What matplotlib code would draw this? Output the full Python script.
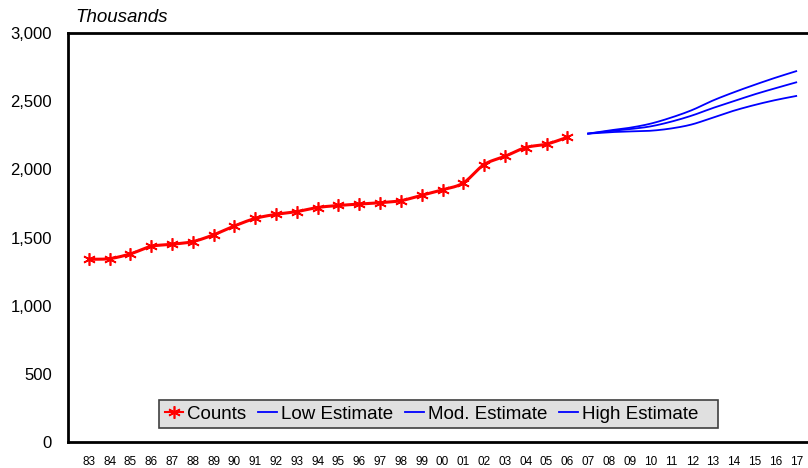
import numpy as np
import matplotlib
matplotlib.use('Agg')
import matplotlib.pyplot as plt
from matplotlib.patches import Rectangle
from matplotlib.ticker import FuncFormatter

plt.rcParams['font.family'] = ['Liberation Sans', 'DejaVu Sans']

# observed counts, 1983-2006 (thousands)
count_years = list(range(1983, 2007))
counts = [1340, 1345, 1380, 1435, 1450, 1470, 1520, 1585, 1640, 1670, 1690, 1720,
          1735, 1745, 1755, 1770, 1810, 1850, 1900, 2035, 2095, 2160, 2185, 2235]

# projections, 2007-2017
est_years = list(range(2007, 2018))
low_est = [2262, 2272, 2278, 2283, 2300, 2330, 2380, 2430, 2472, 2508, 2538]
mod_est = [2262, 2280, 2295, 2315, 2350, 2395, 2450, 2500, 2550, 2595, 2638]
high_est = [2262, 2285, 2305, 2335, 2380, 2435, 2505, 2565, 2620, 2672, 2720]

all_years = list(range(1983, 2018))
yticks = [0, 500, 1000, 1500, 2000, 2500, 3000]
legend_labels = ['Counts', 'Low Estimate', 'Mod. Estimate', 'High Estimate']

W, H = 808, 468


def smooth(xs, ys, n=20):
    # catmull-rom through the points, like Excel's smoothed lines
    x = np.asarray(xs, float)
    y = np.asarray(ys, float)
    px = np.concatenate([[2 * x[0] - x[1]], x, [2 * x[-1] - x[-2]]])
    py = np.concatenate([[2 * y[0] - y[1]], y, [2 * y[-1] - y[-2]]])
    outx, outy = [], []
    t = np.linspace(0, 1, n, endpoint=False)
    for i in range(1, len(px) - 2):
        for arr, out in ((px, outx), (py, outy)):
            p0, p1, p2, p3 = arr[i - 1], arr[i], arr[i + 1], arr[i + 2]
            out.extend(0.5 * (2 * p1 + (-p0 + p2) * t
                              + (2 * p0 - 5 * p1 + 4 * p2 - p3) * t ** 2
                              + (-p0 + 3 * p1 - 3 * p2 + p3) * t ** 3))
    outx.append(x[-1])
    outy.append(y[-1])
    return outx, outy


fig = plt.figure(figsize=(W / 100, H / 100), dpi=100)
ax = fig.add_axes([68 / W, 1 - 442 / H, 740 / W, 409 / H])

star = (6, 2, 0)
sx, sy = smooth(count_years, counts)
ax.plot(sx, sy, color='#ff0000', lw=2.2, zorder=3)
ax.plot(count_years, counts, ls='none', marker=star, ms=9, mew=1.2,
        color='#ff0000', zorder=4)
h_counts = plt.Line2D([], [], color='#ff0000', lw=1.5, marker=star, ms=9, mew=1.2)

handles = [h_counts]
for vals in (low_est, mod_est, high_est):
    ex, ey = smooth(est_years, vals)
    line, = ax.plot(ex, ey, color='#0000ff', lw=1.3)
    handles.append(line)

ax.set_xlim(1982.0, 1983 + (W - 89) / 20.8)
ax.set_ylim(0, 3000)
ax.set_yticks(yticks)
ax.yaxis.set_major_formatter(FuncFormatter(lambda v, p: f'{int(v):,}'))
ax.set_xticks(all_years)
ax.set_xticklabels([f'{y % 100:02d}' for y in all_years], fontsize=8.5)
ax.tick_params(axis='y', length=0, pad=11.5, labelsize=12)
ax.tick_params(axis='x', length=0, pad=10)

for s in ('left', 'top', 'bottom'):
    ax.spines[s].set_linewidth(2)
    ax.spines[s].set_color('black')
ax.spines['right'].set_visible(False)

fig.text(75 / W, 1 - 17 / H, 'Thousands', fontsize=13.5, style='italic',
         va='center', ha='left')

# legend box (Excel leaves extra room on the right)
box = Rectangle((159 / W, 1 - 428 / H), (718 - 159) / W, 28 / H,
                transform=fig.transFigure, facecolor='#e0e0e0',
                edgecolor='#404040', lw=1.2, zorder=5)
fig.patches.append(box)
leg = fig.legend(handles, legend_labels, loc='center left',
                 bbox_to_anchor=(159 / W, 1 - 414 / H), ncol=4, fontsize=13.5,
                 handlelength=1.0, handletextpad=0.2, columnspacing=0.65,
                 borderpad=0.3, borderaxespad=0, frameon=False)
leg.set_zorder(6)

fig.savefig('out.png', dpi=100)
